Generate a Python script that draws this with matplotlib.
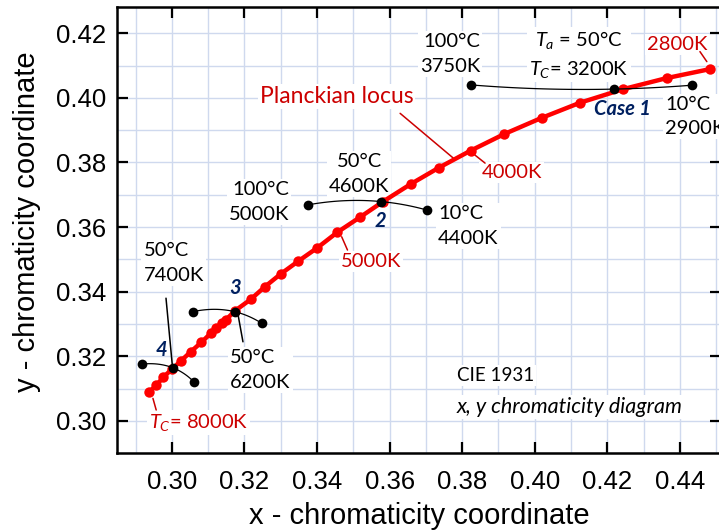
import numpy as np
import matplotlib
matplotlib.use("Agg")
import matplotlib.pyplot as plt
from matplotlib.ticker import MultipleLocator, FormatStrFormatter

# Planckian locus dots, from 8000K up to 2800K
locus_x = [0.2938, 0.2957, 0.2977, 0.3001, 0.3026, 0.3053, 0.3081, 0.3107, 0.3123, 0.3137,
           0.3150, 0.3174, 0.3217, 0.3257, 0.3300, 0.3349, 0.3401, 0.3456, 0.3519, 0.3582,
           0.3658, 0.3736, 0.3824, 0.3916, 0.4019, 0.4125, 0.4244, 0.4363, 0.4483]
locus_y = [0.3090, 0.3110, 0.3136, 0.3161, 0.3187, 0.3215, 0.3243, 0.3271, 0.3288, 0.3302,
           0.3314, 0.3341, 0.3376, 0.3416, 0.3455, 0.3495, 0.3536, 0.3584, 0.3631, 0.3679,
           0.3733, 0.3784, 0.3837, 0.3888, 0.3938, 0.3985, 0.4027, 0.4061, 0.4089]

# measured points for each case: 100C, 50C, 10C
case1_x = [0.3824, 0.4218, 0.4432]
case1_y = [0.4040, 0.4027, 0.4039]
case2_x = [0.3376, 0.3576, 0.3702]
case2_y = [0.3669, 0.3679, 0.3653]
case3_x = [0.3057, 0.3174, 0.3248]
case3_y = [0.3338, 0.3338, 0.3302]
case4_x = [0.2917, 0.3002, 0.3060]
case4_y = [0.3176, 0.3165, 0.3122]

RED = "#FF0000"
DARKRED = "#CC0000"
NAVY = "#002060"
GRID = "#CFD9EE"
ANN = "Lato"

plt.rcParams["font.family"] = ["Liberation Sans", "DejaVu Sans"]
plt.rcParams["mathtext.fontset"] = "custom"
plt.rcParams["mathtext.rm"] = "Lato"
plt.rcParams["mathtext.it"] = "Lato:italic"


def smooth(xs, ys, n=60):
    # quadratic through three points, chord length parameter
    xs = np.asarray(xs)
    ys = np.asarray(ys)
    d = np.hypot(np.diff(xs), np.diff(ys))
    t = np.concatenate([[0], np.cumsum(d)]) / d.sum()
    tt = np.linspace(0, 1, n)
    px = np.polyfit(t, xs, 2)
    py = np.polyfit(t, ys, 2)
    return np.polyval(px, tt), np.polyval(py, tt)


fig = plt.figure(figsize=(7.19, 5.31), dpi=100)
ax = fig.add_axes([117 / 719, 1 - 453.3 / 531, (721 - 117) / 719, (453.3 - 6.7) / 531])

ax.set_xlim(0.2849, 0.4513)
ax.set_ylim(0.2900, 0.4282)
ax.xaxis.set_major_locator(MultipleLocator(0.02))
ax.yaxis.set_major_locator(MultipleLocator(0.02))
ax.xaxis.set_minor_locator(MultipleLocator(0.01))
ax.yaxis.set_minor_locator(MultipleLocator(0.01))
ax.xaxis.set_major_formatter(FormatStrFormatter("%.2f"))
ax.yaxis.set_major_formatter(FormatStrFormatter("%.2f"))
ax.set_axisbelow(True)
ax.grid(which="both", color=GRID, lw=1.0)
ax.tick_params(which="major", direction="in", length=8, width=1.6, top=True, right=True,
               labelsize=18.5)
ax.tick_params(axis="x", pad=12)
ax.tick_params(axis="y", pad=8)
ax.tick_params(which="minor", length=0)
for s in ax.spines.values():
    s.set_linewidth(1.8)

# locus
ax.plot(locus_x, locus_y, "-", color=RED, lw=3.2, zorder=3)
ax.plot(locus_x, locus_y, "o", color=RED, ms=7.5, mec="none", zorder=3)

# cases
for cx, cy in [(case1_x, case1_y), (case2_x, case2_y), (case3_x, case3_y), (case4_x, case4_y)]:
    sx, sy = smooth(cx, cy)
    ax.plot(sx, sy, color="black", lw=0.9, zorder=4)
    ax.plot(cx, cy, "o", color="black", ms=7, mec="none", zorder=5)

box = dict(fc="white", ec="none", pad=1.5)
tk = dict(fontsize=14.5, family=ANN, bbox=box, zorder=1.5, linespacing=1.55)


def leader(x0, y0, x1, y1, color):
    ax.annotate("", xy=(x1, y1), xytext=(x0, y0),
                arrowprops=dict(arrowstyle="-", color=color, lw=1.1, shrinkA=0, shrinkB=0),
                zorder=2)


# red labels on the locus
ax.text(0.3454, 0.4003, "Planckian locus", color=DARKRED, ha="center", va="center",
        **dict(tk, fontsize=16.5))
leader(0.3629, 0.3952, 0.3776, 0.3813, DARKRED)
ax.text(0.3936, 0.3769, "4000K", color=DARKRED, ha="center", va="center", **tk)
leader(0.3835, 0.3823, 0.3863, 0.3798, DARKRED)
ax.text(0.4391, 0.4165, "2800K", color=DARKRED, ha="center", va="center", **tk)
leader(0.4474, 0.4112, 0.4455, 0.4143, DARKRED)
ax.text(0.3548, 0.3493, "5000K", color=DARKRED, ha="center", va="center", **tk)
leader(0.3468, 0.3570, 0.3484, 0.3529, DARKRED)
ax.text(0.2936, 0.2994, r"$T_C$= 8000K", color=DARKRED, ha="left", va="center", **tk)
leader(0.2948, 0.3070, 0.2957, 0.3034, DARKRED)

# case numbers
num = dict(color=NAVY, fontsize=14.5, family=ANN, weight="bold", style="italic",
           ha="center", va="center", zorder=1.5)
ax.text(0.4242, 0.3965, "Case 1", **num)
ax.text(0.3576, 0.3619, "2", **num)
ax.text(0.3174, 0.3410, "3", **num)
ax.text(0.2970, 0.3220, "4", **num)

# temperature labels
ax.text(0.3767, 0.4135, "100°C\n3750K", ha="center", va="center", multialignment="right", **tk)
ax.text(0.4122, 0.4134, "$T_a$ = 50°C\n$T_C$= 3200K", ha="center", va="center",
        multialignment="center", **tk)
ax.text(0.4359, 0.3942, "10°C\n2900K", ha="left", va="center", **tk)
ax.text(0.3516, 0.3764, "50°C\n4600K", ha="center", va="center", multialignment="center", **tk)
ax.text(0.3323, 0.3677, "100°C\n5000K", ha="right", va="center", multialignment="right", **tk)
ax.text(0.3734, 0.3604, "10°C\n4400K", ha="left", va="center", **tk)
ax.text(0.2922, 0.3489, "50°C\n7400K", ha="left", va="center", **tk)
leader(0.2984, 0.3380, case4_x[1], case4_y[1], "black")
ax.text(0.3161, 0.3157, "50°C\n6200K", ha="left", va="center", **tk)
leader(0.3181, 0.3338, 0.3196, 0.3245, "black")

ax.text(0.3785, 0.3142, "CIE 1931", ha="left", va="center", **dict(tk, fontsize=13.5))
ax.text(0.3785, 0.3044, "x, y chromaticity diagram", ha="left", va="center", style="italic",
        **dict(tk, fontsize=15.5))

ax.set_xlabel("x - chromaticity coordinate", fontsize=21, labelpad=6)
ax.set_ylabel("y - chromaticity coordinate", fontsize=21)
ax.yaxis.set_label_coords(-0.126, 0.518)

fig.savefig("out.png", dpi=100)
